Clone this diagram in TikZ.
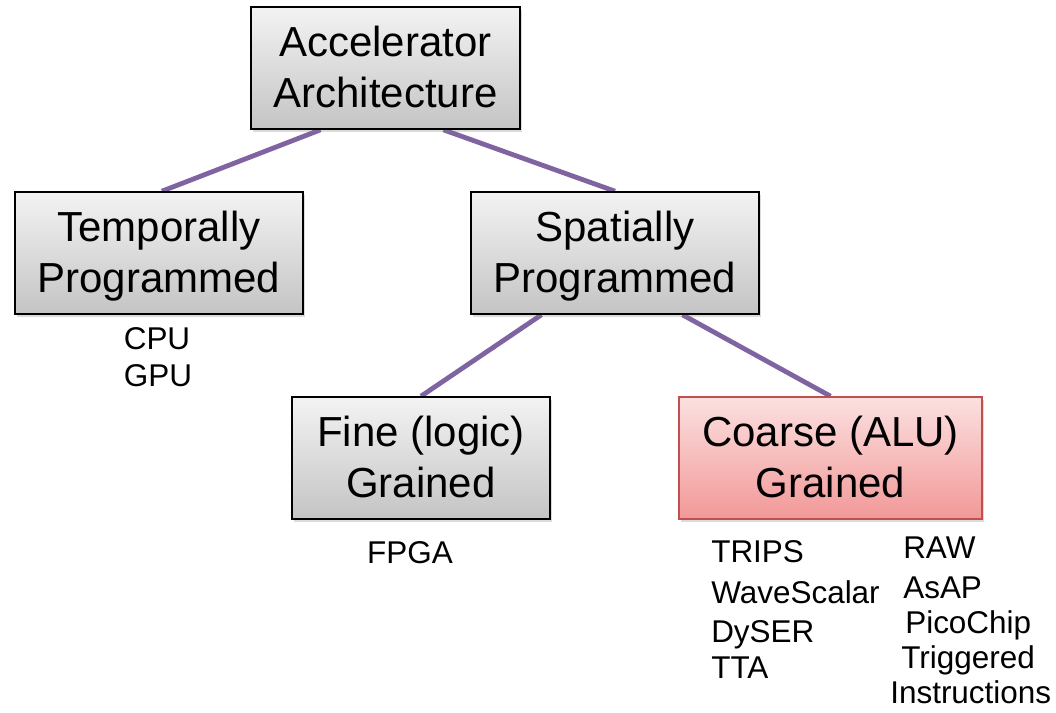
\documentclass[tikz,border=0pt]{standalone}
\usepackage{fontspec}
\setmainfont{Liberation Sans}
\usetikzlibrary{calc,shadows,backgrounds}

\definecolor{linkpurple}{RGB}{128,100,162}
\definecolor{grayTop}{RGB}{243,243,243}
\definecolor{grayBot}{RGB}{196,196,196}
\definecolor{pinkTop}{RGB}{252,224,224}
\definecolor{pinkBot}{RGB}{242,152,152}
\definecolor{redEdge}{RGB}{192,80,77}

% two centred lines; the first line keeps a capital's height, descenders are ignored
\newcommand\twolines[2]{\vphantom{A}\smash{#1}\\\smash{#2}}

\tikzset{
  catbox/.style={draw=black, line width=1.2pt, top color=grayTop, bottom color=grayBot,
    align=center, inner sep=0pt,
    font=\fontsize{31.5}{38.25}\selectfont,
    drop shadow={shadow xshift=1.6pt, shadow yshift=-2.2pt, opacity=0.28}},
  hotbox/.style={catbox, draw=redEdge, top color=pinkTop, bottom color=pinkBot},
  link/.style={draw=linkpurple, line width=3.6pt},
  example/.style={inner sep=0pt, anchor=base, font=\fontsize{23.6}{28}\selectfont},
  examplel/.style={example, anchor=base west},
}

\begin{document}
\begin{tikzpicture}[x=0.75pt, y=-0.75pt]
  \useasboundingbox (0,0) rectangle (1056,713);

  % category boxes
  \node[catbox, minimum width=201.75pt, minimum height=91.5pt] (acc)
    at (385.5,68) {\twolines{Accelerator}{Architecture}};
  \node[catbox, minimum width=216pt, minimum height=91.5pt] (temp)
    at (159,253) {\twolines{Temporally}{Programmed}};
  \node[catbox, minimum width=216pt, minimum height=91.5pt] (spat)
    at (615,253) {\twolines{Spatially}{Programmed}};
  \node[catbox, minimum width=193.5pt, minimum height=91.5pt] (fine)
    at (421,458) {\twolines{Fine (logic)}{Grained}};
  \node[hotbox, minimum width=227.25pt, minimum height=91.5pt] (coarse)
    at (830.5,458) {\twolines{Coarse (ALU)}{Grained}};

  % tree connectors behind the boxes
  \begin{scope}[on background layer]
    \fill[white] (0,0) rectangle (1056,713);
    \draw[link] ($(acc.south west)!0.26!(acc.south east)$) -- ($(temp.north west)!0.51!(temp.north east)$);
    \draw[link] ($(acc.south west)!0.714!(acc.south east)$) -- (spat.north);
    \draw[link] ($(spat.south west)!0.246!(spat.south east)$) -- (fine.north);
    \draw[link] ($(spat.south west)!0.733!(spat.south east)$) -- (coarse.north);
  \end{scope}

  % examples under each leaf
  \node[example] (cpu) at (157,349) {CPU};
  \node[example] (gpu) at (158,386) {GPU};
  \node[example] (fpga) at (410,563) {FPGA};

  \node[examplel] (trips) at (711,562) {TRIPS};
  \node[examplel] (wave) at (711,603) {WaveScalar};
  \node[examplel] (dyser) at (711,642) {DySER};
  \node[examplel] (tta) at (711,678) {TTA};

  \node[examplel] (raw) at (903,558) {RAW};
  \node[examplel] (asap) at (903,598) {AsAP};
  \node[examplel] (pico) at (905,633) {PicoChip};
  \node[examplel] (trig) at (901,668) {Triggered};
  \node[examplel] (instr) at (890,703) {Instructions};
\end{tikzpicture}
\end{document}
